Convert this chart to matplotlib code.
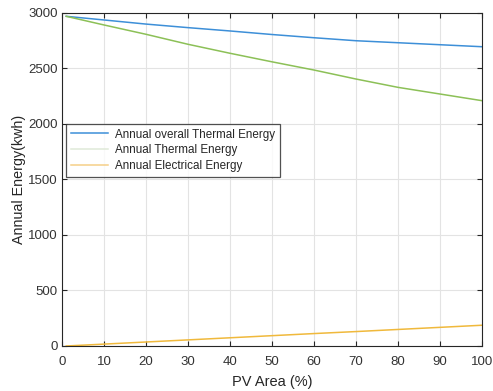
import matplotlib
matplotlib.use("Agg")
import matplotlib.pyplot as plt
from matplotlib.lines import Line2D

plt.rcParams['font.family'] = ['Liberation Sans', 'DejaVu Sans']

pv_area = [1, 10, 20, 30, 40, 50, 60, 70, 80, 90, 100]
overall_thermal = [2970, 2937, 2900, 2868, 2838, 2806, 2777, 2750, 2732, 2714, 2696]
thermal = [2970, 2892, 2808, 2718, 2637, 2560, 2486, 2405, 2330, 2270, 2210]
electrical = [0, 17, 36, 55, 74, 93, 112, 130, 149, 168, 187]

labels = ["Annual overall Thermal Energy", "Annual Thermal Energy", "Annual Electrical Energy"]
line_colors = ["#3d8fd8", "#8cc057", "#f0b93c"]
legend_colors = ["#3d8fd8", "#dfe9d8", "#f5cf88"]

fig = plt.figure(figsize=(4.93, 3.91), dpi=100)
ax = fig.add_axes([0.1258, 0.1151, 0.8519, 0.8517])

ax.plot(pv_area, overall_thermal, color=line_colors[0], lw=1.1)
ax.plot(pv_area, thermal, color=line_colors[1], lw=1.1)
ax.plot(pv_area, electrical, color=line_colors[2], lw=1.1)

ax.set_xlim(0, 100)
ax.set_ylim(0, 3000)
ax.set_xticks(range(0, 101, 10))
ax.set_yticks(range(0, 3001, 500))
ax.grid(True, color="#e3e3e3", lw=0.8)
ax.set_axisbelow(True)
ax.tick_params(direction="in", top=True, right=True, length=3.5, width=0.8,
               labelsize=9.5, colors="#262626", labelcolor="#333333")
ax.tick_params(axis="x", pad=7)
ax.tick_params(axis="y", pad=3)
for s in ax.spines.values():
    s.set_color("#262626")
    s.set_linewidth(0.8)

ax.set_xlabel("PV Area (%)", fontsize=10.5, color="#262626", labelpad=5)
ax.set_ylabel("Annual Energy(kwh)", fontsize=10.3, color="#262626", labelpad=1.5)

handles = [Line2D([], [], color=c, lw=1.1) for c in legend_colors]
leg = ax.legend(handles, labels, loc="upper left", bbox_to_anchor=(0.01, 0.667),
                borderaxespad=0, fontsize=8.4, frameon=True, fancybox=False,
                handlelength=3.2, borderpad=0.4, labelspacing=0.32, handletextpad=0.6)
leg.get_frame().set_edgecolor("#262626")
leg.get_frame().set_linewidth(0.9)
for t in leg.get_texts():
    t.set_color("#262626")

fig.savefig("out.png", dpi=100)
